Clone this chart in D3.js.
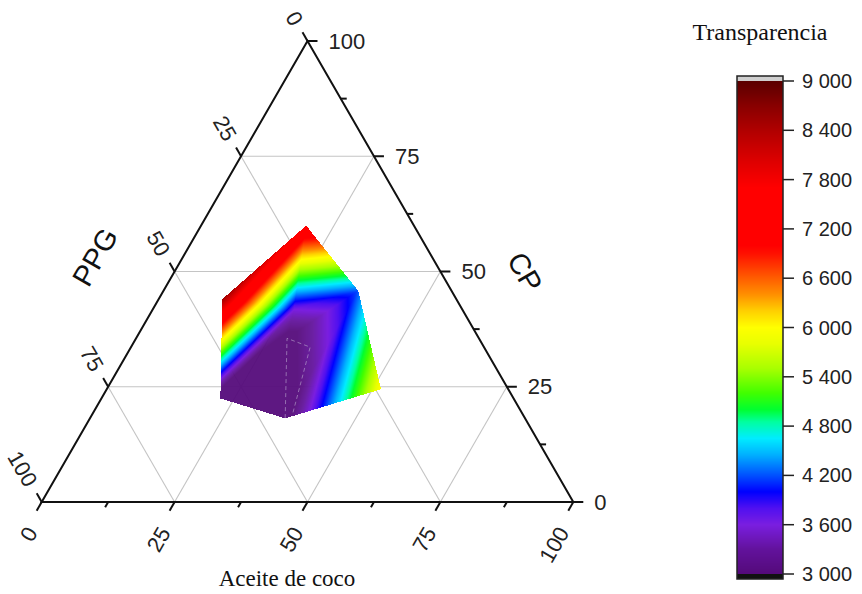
<!DOCTYPE html>
<html><head><meta charset="utf-8">
<script src="https://cdn.jsdelivr.net/npm/d3@7"></script>
<style>body{margin:0;background:#fff;} svg{display:block}</style>
</head><body>
<svg id="chart" width="862" height="594"></svg>
<script>
// ---------------- data ----------------
const axisTicks = [0, 25, 50, 75, 100];
const minorTicks = [12.5, 37.5, 62.5, 87.5];
const gridValues = [25, 50, 75];
// design points (Aceite de coco, PPG, CP in %) and measured Transparencia
const pointAceite = [19.8, 36.6, 51.5, 36.7, 22.4, 12.0, 26.6, 28.4];
const pointPPG    = [20.3, 17.6, 24.0, 45.1, 55.1, 44.0, 31.7, 36.1];
const pointCP     = [59.9, 45.8, 24.5, 18.2, 22.5, 44.0, 41.7, 35.5];
const transparencia = [7600, 4200, 6000, 2750, 2400, 8500, 3600, 2800];
const triangles = [[5,0,6],[0,1,6],[5,6,4],[6,7,4],[4,7,3],[6,1,7],[1,3,7],[1,2,3]];
// faint dashed guide inside region (Aceite, PPG, CP)
const guideAceite = [36.7, 28.4, 33.7, 37.6];
const guidePPG    = [45.1, 36.1, 32.7, 43.1];
const guideCP     = [18.2, 35.5, 33.6, 19.3];
const colorTicks = [3000, 3600, 4200, 4800, 5400, 6000, 6600, 7200, 7800, 8400, 9000];
const colorStopValues = [3000,3300,3600,3800,4000,4200,4450,4650,4850,5000,5200,5500,5800,6000,6200,6400,6650,6900,7000,7700,8000,8400,8700,9000];
const colorStopColors = ["#540a7a","#62129c","#7a1ee0","#5010f0","#0000ff","#0050ff","#00b0ff","#00ecff","#00ffa0","#00ff30","#40ff00","#a8ff00","#e8ff00","#ffff00","#ffd000","#ff9000","#ff5000","#ff1000","#ff0000","#ff0000","#e00000","#b00000","#880000","#5a0000"];

// ---------------- layout ----------------
const W = 862, H = 594;
const Lx = 41.7, Rx = 573.3, By = 502, Ty = 41;
const xs = d3.scaleLinear().domain([0, 100]).range([Lx, Rx]);
const ys = d3.scaleLinear().domain([0, 100]).range([By, Ty]);
const proj = (a, p, c) => [xs(a + c / 2), ys(c)];
const color = d3.scaleLinear().domain(colorStopValues).range(colorStopColors).interpolate(d3.interpolateRgb).clamp(true);

const svg = d3.select("#chart");
const sans = "'Liberation Sans', Arial, sans-serif";
const serif = "'Liberation Serif', 'Times New Roman', serif";

// gridlines
const gridG = svg.append("g").attr("stroke", "#c4c4c4").attr("stroke-width", 1.1).attr("fill", "none");
gridValues.forEach(v => {
  const lines = [
    [proj(0, 100 - v, v), proj(100 - v, 0, v)],      // CP const
    [proj(v, 100 - v, 0), proj(v, 0, 100 - v)],      // Aceite const
    [proj(0, v, 100 - v), proj(100 - v, v, 0)]       // PPG const
  ];
  lines.forEach(l => gridG.append("line").attr("x1", l[0][0]).attr("y1", l[0][1]).attr("x2", l[1][0]).attr("y2", l[1][1]));
});

// surface rendered via canvas (linear interpolation over triangles)
const cv = document.createElement("canvas");
cv.width = W; cv.height = H;
const ctx = cv.getContext("2d");
const img = ctx.createImageData(W, H);
const pts = pointAceite.map((a, i) => proj(a, pointPPG[i], pointCP[i]));
triangles.forEach(t => {
  const [p0, p1, p2] = t.map(i => pts[i]);
  const [v0, v1, v2] = t.map(i => transparencia[i]);
  const minX = Math.floor(Math.min(p0[0], p1[0], p2[0])), maxX = Math.ceil(Math.max(p0[0], p1[0], p2[0]));
  const minY = Math.floor(Math.min(p0[1], p1[1], p2[1])), maxY = Math.ceil(Math.max(p0[1], p1[1], p2[1]));
  const det = (p1[1] - p2[1]) * (p0[0] - p2[0]) + (p2[0] - p1[0]) * (p0[1] - p2[1]);
  for (let y = minY; y <= maxY; y++) for (let x = minX; x <= maxX; x++) {
    const px = x + 0.5, py = y + 0.5;
    const l0 = ((p1[1] - p2[1]) * (px - p2[0]) + (p2[0] - p1[0]) * (py - p2[1])) / det;
    const l1 = ((p2[1] - p0[1]) * (px - p2[0]) + (p0[0] - p2[0]) * (py - p2[1])) / det;
    const l2 = 1 - l0 - l1;
    const e = -0.003;
    if (l0 < e || l1 < e || l2 < e) continue;
    const v = l0 * v0 + l1 * v1 + l2 * v2;
    const c = d3.rgb(color(v));
    const k = (y * W + x) * 4;
    img.data[k] = c.r; img.data[k + 1] = c.g; img.data[k + 2] = c.b;
    img.data[k + 3] = v < 3300 ? 240 : (v < 3600 ? 240 + (v - 3300) / 300 * 15 : 255);
  }
});
ctx.putImageData(img, 0, 0);
svg.append("image").attr("x", 0).attr("y", 0).attr("width", W).attr("height", H).attr("href", cv.toDataURL());

// dashed guide
svg.append("path")
  .attr("d", d3.line()(guideAceite.map((a, i) => proj(a, guidePPG[i], guideCP[i]))))
  .attr("fill", "none").attr("stroke", "#b9a6cf").attr("stroke-width", 1).attr("stroke-dasharray", "4,3").attr("opacity", 0.6);

// triangle frame
const T = proj(0, 0, 100), L = proj(0, 100, 0), R = proj(100, 0, 0);
svg.append("path").attr("d", d3.line()([T, L, R]) + "Z").attr("fill", "none").attr("stroke", "#111").attr("stroke-width", 2);

const axG = svg.append("g").attr("stroke", "#111").attr("stroke-width", 2);
const txt = svg.append("g").attr("font-family", sans).attr("font-size", 22).attr("fill", "#222");
const s3 = Math.sqrt(3) / 2;
// PPG (left side) ticks
axisTicks.forEach(v => {
  const p = proj(0, v, 100 - v), d = [-0.5, -s3];
  axG.append("line").attr("x1", p[0]).attr("y1", p[1]).attr("x2", p[0] + d[0] * 10).attr("y2", p[1] + d[1] * 10);
  const ax = p[0] + d[0] * 20, ay = p[1] + d[1] * 20;
  txt.append("text").attr("transform", `translate(${ax},${ay}) rotate(60)`).attr("text-anchor", "end").attr("dy", "0.35em").text(v);
});
// Aceite (bottom) ticks
axisTicks.forEach(v => {
  const p = proj(v, 100 - v, 0), d = [-0.5, s3];
  axG.append("line").attr("x1", p[0]).attr("y1", p[1]).attr("x2", p[0] + d[0] * 10).attr("y2", p[1] + d[1] * 10);
  const ax = p[0] + d[0] * 24 + 2, ay = p[1] + d[1] * 24 + 6;
  txt.append("text").attr("transform", `translate(${ax},${ay}) rotate(-60)`).attr("text-anchor", "end").attr("dy", "0.35em").text(v);
});
minorTicks.forEach(v => {
  const p = proj(v, 100 - v, 0), d = [-0.5, s3];
  axG.append("line").attr("x1", p[0]).attr("y1", p[1]).attr("x2", p[0] + d[0] * 6).attr("y2", p[1] + d[1] * 6);
  const q = proj(100 - v, 0, v);
  axG.append("line").attr("x1", q[0]).attr("y1", q[1]).attr("x2", q[0] + 6).attr("y2", q[1]);
});
// CP (right side) ticks
axisTicks.forEach(v => {
  const p = proj(100 - v, 0, v);
  axG.append("line").attr("x1", p[0]).attr("y1", p[1]).attr("x2", p[0] + 10).attr("y2", p[1]);
  txt.append("text").attr("x", p[0] + 21).attr("y", p[1]).attr("dy", "0.35em").text(v);
});

// axis titles
svg.append("text").attr("transform", "translate(95,257) rotate(-60)").attr("text-anchor", "middle").attr("dy", "0.35em")
  .attr("font-family", sans).attr("font-size", 29).attr("fill", "#111").text("PPG");
svg.append("text").attr("transform", "translate(525,272) rotate(60)").attr("text-anchor", "middle").attr("dy", "0.35em")
  .attr("font-family", sans).attr("font-size", 29).attr("fill", "#111").text("CP");
svg.append("text").attr("x", 287).attr("y", 586).attr("text-anchor", "middle")
  .attr("font-family", serif).attr("font-size", 23).attr("fill", "#111").text("Aceite de coco");

// colour bar
const cbX = 737, cbW = 46, cbTop = 76, cbBot = 579;
const cy = d3.scaleLinear().domain([3000, 9000]).range([574, 81]);
const cbG = svg.append("g");
cbG.append("rect").attr("x", cbX).attr("y", cbTop).attr("width", cbW).attr("height", cy(9000) - cbTop).attr("fill", "#cfcfcf");
d3.range(Math.floor(cy(9000)), Math.ceil(cy(3000))).forEach(y => {
  cbG.append("rect").attr("x", cbX).attr("y", y).attr("width", cbW).attr("height", 1.2).attr("fill", color(cy.invert(y + 0.5)));
});
cbG.append("rect").attr("x", cbX).attr("y", cy(3000)).attr("width", cbW).attr("height", cbBot - cy(3000)).attr("fill", "#111");
cbG.append("rect").attr("x", cbX).attr("y", cbTop).attr("width", cbW).attr("height", cbBot - cbTop).attr("fill", "none").attr("stroke", "#222").attr("stroke-width", 1.5);
const fmt = v => d3.format(",")(v).replace(",", " ");
colorTicks.forEach(v => {
  cbG.append("line").attr("x1", cbX + cbW).attr("x2", cbX + cbW + 11).attr("y1", cy(v)).attr("y2", cy(v)).attr("stroke", "#222").attr("stroke-width", 1.5);
  cbG.append("text").attr("x", cbX + cbW + 19).attr("y", cy(v)).attr("dy", "0.35em").attr("font-family", sans).attr("font-size", 20).attr("fill", "#222").text(fmt(v));
});
svg.append("text").attr("x", 760).attr("y", 40).attr("text-anchor", "middle")
  .attr("font-family", serif).attr("font-size", 24).attr("fill", "#111").text("Transparencia");
</script>
</body></html>
